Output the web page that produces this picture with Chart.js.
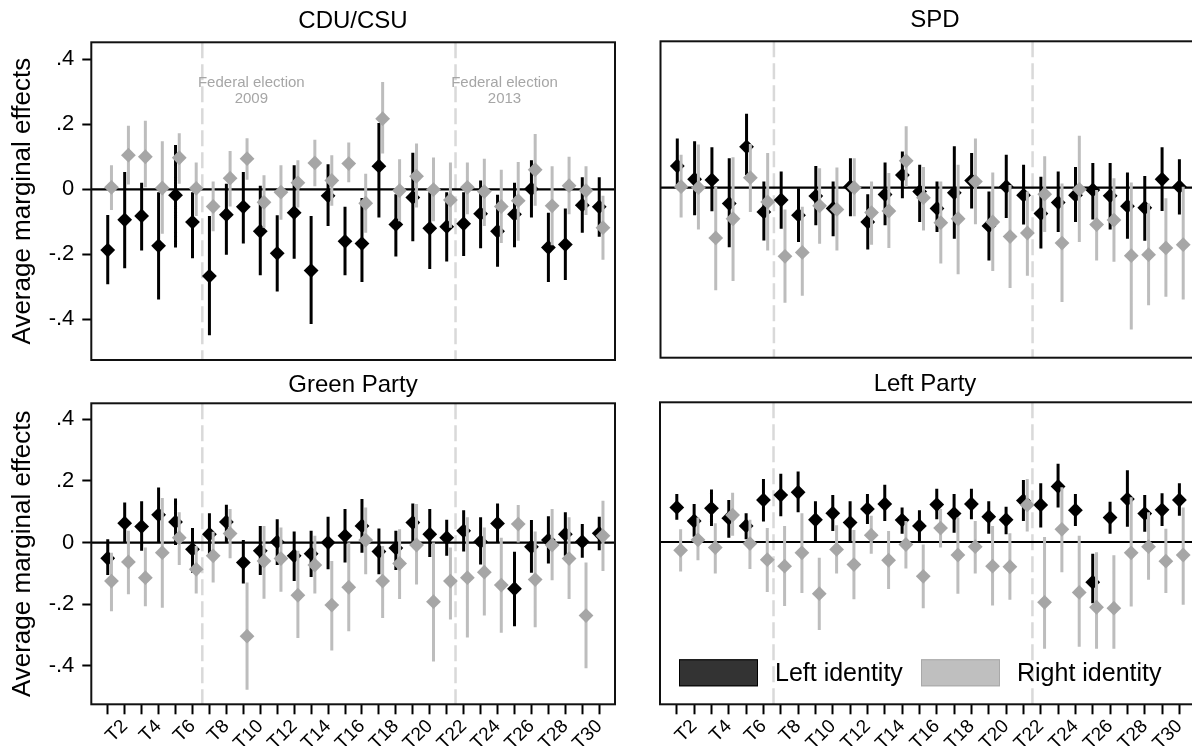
<!DOCTYPE html>
<html>
<head>
<meta charset="utf-8">
<title>Average marginal effects by party</title>
<script src="https://cdn.jsdelivr.net/npm/chart.js@4.4.1/dist/chart.umd.min.js"></script>
<style>
    html, body { margin: 0; padding: 0; background: #fff; }
    body { width: 1192px; height: 746px; overflow: hidden; position: relative; }
    canvas { position: absolute; }
</style>
</head>
<body>
<canvas id="cdu" width="625" height="372" style="left:0;top:0"></canvas>
<canvas id="spd" width="570" height="372" style="left:640px;top:0"></canvas>
<canvas id="green" width="625" height="378" style="left:0;top:368px"></canvas>
<canvas id="leftparty" width="570" height="378" style="left:640px;top:368px"></canvas>
<script>
const waves = ['T1', 'T2', 'T3', 'T4', 'T5', 'T6', 'T7', 'T8', 'T9', 'T10',
    'T11', 'T12', 'T13', 'T14', 'T15', 'T16', 'T17', 'T18', 'T19', 'T20',
    'T21', 'T22', 'T23', 'T24', 'T25', 'T26', 'T27', 'T28', 'T29', 'T30'];
const yTickValues = [-0.4, -0.2, 0, 0.2, 0.4];
const yTickLabels = ['-.4', '-.2', '0', '.2', '.4'];
const electionBreaks = [6.58, 21.52];
const electionNotes = [['Federal election', '2009'], ['Federal election', '2013']];
const legendLabels = ['Left identity', 'Right identity'];

// CDU/CSU
const cduLeft = [-0.187, -0.094, -0.082, -0.174, -0.018, -0.101, -0.267, -0.078, -0.054, -0.129,
    -0.197, -0.072, -0.250, -0.020, -0.160, -0.167, 0.071, -0.108, -0.025, -0.120,
    -0.115, -0.106, -0.075, -0.129, -0.077, 0.001, -0.179, -0.170, -0.049, -0.054];
const cduLeftLo = [-0.292, -0.243, -0.188, -0.339, -0.179, -0.212, -0.449, -0.201, -0.167, -0.264,
    -0.314, -0.214, -0.414, -0.113, -0.264, -0.285, -0.087, -0.207, -0.160, -0.245,
    -0.222, -0.205, -0.181, -0.238, -0.178, -0.087, -0.285, -0.279, -0.134, -0.146];
const cduLeftHi = [-0.079, 0.053, 0.020, -0.009, 0.136, -0.009, -0.082, 0.017, 0.053, 0.011,
    -0.080, 0.074, -0.082, 0.077, -0.054, -0.027, 0.204, -0.015, 0.112, -0.009,
    -0.009, -0.009, 0.027, -0.017, 0.020, 0.089, -0.072, -0.059, 0.037, 0.037];
const cduRight = [0.006, 0.105, 0.100, 0.004, 0.097, 0.003, -0.053, 0.034, 0.094, -0.040,
    -0.009, 0.020, 0.081, 0.027, 0.079, -0.043, 0.217, -0.004, 0.040, -0.001,
    -0.033, 0.006, -0.007, -0.053, -0.035, 0.060, -0.051, 0.011, -0.004, -0.118];
const cduRightLo = [-0.064, 0.015, 0.006, -0.137, 0.017, -0.082, -0.129, -0.053, 0.029, -0.118,
    -0.094, -0.056, 0.009, -0.051, 0.022, -0.134, 0.110, -0.098, -0.056, -0.098,
    -0.118, -0.077, -0.113, -0.165, -0.158, -0.051, -0.172, -0.077, -0.079, -0.217];
const cduRightHi = [0.074, 0.195, 0.211, 0.148, 0.172, 0.082, 0.024, 0.118, 0.157, 0.043,
    0.074, 0.089, 0.152, 0.105, 0.144, 0.048, 0.330, 0.092, 0.141, 0.098,
    0.082, 0.082, 0.094, 0.060, 0.084, 0.170, 0.071, 0.100, 0.071, -0.020];

// SPD
const spdLeft = [0.067, 0.026, 0.024, -0.049, 0.126, -0.075, -0.038, -0.085, -0.026, -0.064,
    0.003, -0.106, -0.021, 0.039, -0.012, -0.064, -0.016, 0.022, -0.118, 0.003,
    -0.023, -0.080, -0.046, -0.023, -0.007, -0.025, -0.057, -0.062, 0.026, 0.003];
const spdLeftLo = [0.003, -0.085, -0.073, -0.184, 0.039, -0.163, -0.127, -0.168, -0.116, -0.150,
    -0.088, -0.191, -0.116, -0.033, -0.106, -0.137, -0.158, -0.064, -0.225, -0.094,
    -0.114, -0.188, -0.137, -0.106, -0.098, -0.129, -0.158, -0.164, -0.072, -0.083];
const spdLeftHi = [0.152, 0.143, 0.125, 0.091, 0.228, 0.019, 0.050, -0.002, 0.067, 0.019,
    0.091, -0.020, 0.078, 0.112, 0.071, 0.019, 0.128, 0.107, -0.012, 0.102,
    0.071, 0.034, 0.050, 0.064, 0.076, 0.076, 0.047, 0.036, 0.125, 0.088];
const spdRight = [0.003, 0.000, -0.155, -0.096, 0.031, -0.044, -0.212, -0.200, -0.056, -0.067,
    0.000, -0.077, -0.072, 0.083, -0.031, -0.108, -0.096, 0.019, -0.106, -0.151,
    -0.140, -0.020, -0.171, -0.005, -0.114, -0.100, -0.210, -0.207, -0.186, -0.176];
const spdRightLo = [-0.092, -0.129, -0.317, -0.288, -0.075, -0.194, -0.355, -0.334, -0.173, -0.194,
    -0.088, -0.176, -0.186, 0.003, -0.132, -0.234, -0.267, -0.113, -0.257, -0.310,
    -0.272, -0.137, -0.353, -0.168, -0.225, -0.229, -0.438, -0.363, -0.337, -0.345];
const spdRightHi = [0.102, 0.133, 0.003, 0.094, 0.135, 0.107, -0.067, -0.059, 0.060, 0.062,
    0.091, 0.019, 0.045, 0.190, 0.064, 0.019, 0.071, 0.152, 0.047, 0.008,
    -0.012, 0.097, 0.013, 0.160, -0.007, 0.029, 0.016, -0.049, -0.033, 0.003];

// Green Party
const greenLeft = [-0.051, 0.063, 0.052, 0.090, 0.067, -0.022, 0.027, 0.067, -0.065, -0.027,
    0.002, -0.043, -0.036, 0.000, 0.022, 0.054, -0.029, -0.018, 0.065, 0.027,
    0.016, 0.038, 0.003, 0.062, -0.150, -0.014, 0.008, 0.027, 0.003, 0.030];
const greenLeftLo = [-0.105, 0.000, -0.027, 0.000, -0.008, -0.098, -0.038, 0.000, -0.133, -0.105,
    -0.073, -0.125, -0.112, -0.087, -0.065, -0.033, -0.103, -0.089, -0.005, -0.047,
    -0.043, -0.029, -0.071, 0.000, -0.272, -0.098, -0.068, -0.043, -0.049, -0.025];
const greenLeftHi = [0.011, 0.130, 0.134, 0.179, 0.143, 0.047, 0.095, 0.123, 0.008, 0.054,
    0.076, 0.036, 0.038, 0.084, 0.109, 0.141, 0.046, 0.038, 0.127, 0.109,
    0.074, 0.105, 0.082, 0.127, -0.030, 0.073, 0.085, 0.098, 0.060, 0.084];
const greenRight = [-0.125, -0.063, -0.114, -0.033, 0.016, -0.087, -0.043, 0.029, -0.304, -0.060,
    -0.052, -0.171, -0.073, -0.203, -0.145, 0.008, -0.125, -0.068, -0.008, -0.192,
    -0.125, -0.114, -0.096, -0.138, 0.060, -0.120, -0.008, -0.052, -0.237, 0.022];
const greenRightLo = [-0.223, -0.168, -0.207, -0.212, -0.073, -0.165, -0.130, -0.051, -0.478, -0.182,
    -0.160, -0.310, -0.165, -0.350, -0.288, -0.103, -0.245, -0.183, -0.136, -0.386,
    -0.250, -0.308, -0.237, -0.293, 0.000, -0.275, -0.122, -0.183, -0.408, -0.092];
const greenRightHi = [-0.033, 0.038, -0.016, 0.145, 0.098, -0.011, 0.035, 0.109, -0.130, 0.054,
    0.049, -0.027, 0.022, -0.060, 0.000, 0.114, -0.011, 0.043, 0.125, 0.000,
    -0.016, 0.082, 0.049, 0.016, 0.122, 0.036, 0.109, 0.082, -0.065, 0.136];

// Left Party
const linkeLeft = [0.112, 0.068, 0.109, 0.077, 0.052, 0.136, 0.152, 0.161, 0.072, 0.093,
    0.063, 0.107, 0.123, 0.071, 0.052, 0.121, 0.092, 0.123, 0.082, 0.072,
    0.134, 0.120, 0.180, 0.103, -0.130, 0.079, 0.139, 0.092, 0.104, 0.136];
const linkeLeftLo = [0.072, 0.017, 0.052, 0.014, 0.009, 0.066, 0.083, 0.096, 0.000, 0.036,
    0.000, 0.058, 0.068, 0.027, 0.000, 0.074, 0.030, 0.074, 0.027, 0.025,
    0.068, 0.047, 0.112, 0.052, -0.198, 0.027, 0.049, 0.033, 0.052, 0.085];
const linkeLeftHi = [0.155, 0.123, 0.170, 0.136, 0.093, 0.204, 0.221, 0.228, 0.132, 0.152,
    0.132, 0.155, 0.185, 0.112, 0.103, 0.172, 0.155, 0.172, 0.132, 0.114,
    0.201, 0.190, 0.253, 0.155, -0.038, 0.130, 0.232, 0.152, 0.158, 0.190];
const linkeRight = [-0.027, 0.007, -0.018, 0.087, -0.005, -0.057, -0.078, -0.035, -0.167, -0.024,
    -0.073, 0.022, -0.059, -0.008, -0.111, 0.045, -0.042, -0.015, -0.078, -0.080,
    0.120, -0.195, 0.041, -0.163, -0.211, -0.214, -0.035, -0.015, -0.062, -0.042];
const linkeRightLo = [-0.095, -0.059, -0.102, 0.020, -0.087, -0.162, -0.207, -0.165, -0.285, -0.102,
    -0.185, -0.038, -0.152, -0.086, -0.214, -0.018, -0.167, -0.102, -0.205, -0.187,
    0.034, -0.345, -0.098, -0.339, -0.345, -0.345, -0.209, -0.122, -0.165, -0.203];
const linkeRightHi = [0.041, 0.079, 0.061, 0.159, 0.072, 0.045, 0.052, 0.093, -0.051, 0.054,
    0.039, 0.085, 0.036, 0.068, -0.008, 0.107, 0.079, 0.068, 0.052, 0.028,
    0.204, 0.016, 0.177, 0.020, -0.033, -0.043, 0.145, 0.096, 0.043, 0.112];

const FONT = '"Liberation Sans", Arial, sans-serif';
const BLACK = '#000000';
const GREY_POINT = '#a6a6a6';
const GREY_LINE = '#bdbdbd';
const GREY_SHIFT = 0.22;

function pointData(values, shift) {
    return values.map((v, i) => ({ x: i + 1 + shift, y: v }));
}

// vertical CI segments, separated by null points so the line breaks
function ciData(lo, hi, shift) {
    const out = [];
    lo.forEach((l, i) => {
        const x = i + 1 + shift;
        out.push({ x: x, y: l }, { x: x, y: hi[i] }, { x: x, y: null });
    });
    return out;
}

const panelDecor = {
    id: 'panelDecor',
    beforeDatasetsDraw(chart, args, opts) {
        const { ctx, chartArea: a, scales } = chart;
        ctx.save();
        ctx.strokeStyle = '#d9d9d9';
        ctx.lineWidth = 2.5;
        ctx.setLineDash([16, 6]);
        electionBreaks.forEach(v => {
            const px = scales.x.getPixelForValue(v);
            ctx.beginPath();
            ctx.moveTo(px, a.top);
            ctx.lineTo(px, a.bottom);
            ctx.stroke();
        });
        ctx.setLineDash([]);
        const zy = scales.y.getPixelForValue(0);
        ctx.strokeStyle = BLACK;
        ctx.lineWidth = 2.2;
        ctx.beginPath();
        ctx.moveTo(a.left, zy);
        ctx.lineTo(a.right, zy);
        ctx.stroke();
        ctx.restore();
    },
    afterDraw(chart, args, opts) {
        const { ctx, chartArea: a, scales } = chart;
        ctx.save();
        ctx.strokeStyle = '#111';
        ctx.lineWidth = 2;
        ctx.strokeRect(a.left, a.top, a.right - a.left, a.bottom - a.top);

        ctx.fillStyle = '#000';
        ctx.font = '24px ' + FONT;
        ctx.textAlign = 'center';
        ctx.textBaseline = 'middle';
        ctx.fillText(opts.title, opts.titleX, a.top - opts.titleGap);

        if (opts.notes) {
            ctx.fillStyle = '#a6a6a6';
            ctx.font = '15px ' + FONT;
            electionNotes.forEach((lines, i) => {
                const px = scales.x.getPixelForValue(electionBreaks[i]) + 49;
                const py = scales.y.getPixelForValue(0.327);
                lines.forEach((t, j) => ctx.fillText(t, px, py + j * 16));
            });
        }

        if (opts.legend) {
            const colors = ['#333333', '#bfbfbf'];
            const borders = ['#000000', '#a8a8a8'];
            const boxX = [a.left + 19, a.left + 261];
            const top = a.bottom - 45;
            ctx.font = '25px ' + FONT;
            ctx.textAlign = 'left';
            legendLabels.forEach((label, i) => {
                ctx.fillStyle = colors[i];
                ctx.fillRect(boxX[i], top, 79, 27);
                ctx.strokeStyle = borders[i];
                ctx.lineWidth = 1;
                ctx.strokeRect(boxX[i] + 0.5, top + 0.5, 78, 26);
                ctx.fillStyle = '#000';
                ctx.fillText(label, boxX[i] + 96, top + 15);
            });
        }
        ctx.restore();
    }
};

function makePanel(id, s, cfg) {
    const ctx = document.getElementById(id).getContext('2d');
    const tickGrid = {
        display: true,
        drawOnChartArea: false,
        drawTicks: true,
        color: 'rgba(0,0,0,0)',
        tickColor: BLACK,
        tickWidth: 2
    };
    return new Chart(ctx, {
        type: 'scatter',
        data: {
            datasets: [
                {
                    data: pointData(s.right, GREY_SHIFT),
                    pointStyle: 'rectRot', pointRadius: 7.4,
                    backgroundColor: GREY_POINT, borderWidth: 0
                },
                {
                    type: 'line',
                    data: ciData(s.rightLo, s.rightHi, GREY_SHIFT),
                    borderColor: GREY_LINE, borderWidth: 3,
                    pointRadius: 0, spanGaps: false, fill: false
                },
                {
                    data: pointData(s.left, 0),
                    pointStyle: 'rectRot', pointRadius: 7.4,
                    backgroundColor: BLACK, borderWidth: 0
                },
                {
                    type: 'line',
                    data: ciData(s.leftLo, s.leftHi, 0),
                    borderColor: BLACK, borderWidth: 3,
                    pointRadius: 0, spanGaps: false, fill: false
                }
            ]
        },
        options: {
            responsive: false,
            animation: false,
            events: [],
            layout: { padding: cfg.padding },
            plugins: {
                legend: { display: false },
                tooltip: { enabled: false },
                panelDecor: cfg.decor
            },
            scales: {
                x: {
                    type: 'linear',
                    min: cfg.xMin,
                    max: 30.93,
                    display: cfg.showX,
                    border: { display: false },
                    grid: Object.assign({}, tickGrid, { tickLength: 10 }),
                    afterBuildTicks: scale => {
                        scale.ticks = waves.map((w, i) => ({ value: i + 1 }));
                    },
                    afterFit: scale => {
                        if (cfg.showX) scale.height = 41.7;
                        scale.paddingLeft = 0;
                        scale.paddingRight = 0;
                    },
                    ticks: {
                        autoSkip: false,
                        minRotation: 45,
                        maxRotation: 45,
                        padding: 1,
                        color: '#000',
                        font: { family: FONT, size: 19 },
                        callback: v => (v % 2 === 0 ? waves[v - 1] : '')
                    }
                },
                y: {
                    type: 'linear',
                    min: -0.525,
                    max: 0.452,
                    display: cfg.showY,
                    border: { display: false },
                    grid: Object.assign({}, tickGrid, { tickLength: 9 }),
                    afterBuildTicks: scale => {
                        scale.ticks = yTickValues.map(v => ({ value: v }));
                    },
                    afterFit: scale => {
                        if (cfg.showY) scale.width = 91.3;
                        scale.paddingTop = 0;
                        scale.paddingBottom = 0;
                    },
                    ticks: {
                        padding: 8,
                        color: '#000',
                        font: { family: FONT, size: 22 },
                        callback: v => yTickLabels[yTickValues.indexOf(v)]
                    },
                    title: {
                        display: true,
                        text: 'Average marginal effects',
                        color: '#000',
                        padding: { top: 7, bottom: 0 },
                        font: { family: FONT, size: 26 }
                    }
                }
            }
        },
        plugins: [panelDecor]
    });
}

makePanel('cdu', {
    left: cduLeft, leftLo: cduLeftLo, leftHi: cduLeftHi,
    right: cduRight, rightLo: cduRightLo, rightHi: cduRightHi
}, {
    padding: { top: 42.3, right: 10, bottom: 12, left: 0 },
    xMin: 0.03, showX: false, showY: true,
    decor: { title: 'CDU/CSU', titleX: 353, titleGap: 21, notes: true }
});

makePanel('spd', {
    left: spdLeft, leftLo: spdLeftLo, leftHi: spdLeftHi,
    right: spdRight, rightLo: spdRightLo, rightHi: spdRightHi
}, {
    padding: { top: 41.3, right: 14.5, bottom: 14.3, left: 20.5 },
    xMin: 0.03, showX: false, showY: false,
    decor: { title: 'SPD', titleX: 295, titleGap: 21 }
});

makePanel('green', {
    left: greenLeft, leftLo: greenLeftLo, leftHi: greenLeftHi,
    right: greenRight, rightLo: greenRightLo, rightHi: greenRightHi
}, {
    padding: { top: 35.3, right: 10, bottom: 0, left: 0 },
    xMin: 0.03, showX: true, showY: true,
    decor: { title: 'Green Party', titleX: 353, titleGap: 18 }
});

makePanel('leftparty', {
    left: linkeLeft, leftLo: linkeLeftLo, leftHi: linkeLeftHi,
    right: linkeRight, rightLo: linkeRightLo, rightHi: linkeRightHi
}, {
    padding: { top: 34.3, right: 14.5, bottom: 0, left: 20 },
    xMin: 0.03, showX: true, showY: false,
    decor: { title: 'Left Party', titleX: 285, titleGap: 18, legend: true }
});
</script>
</body>
</html>
